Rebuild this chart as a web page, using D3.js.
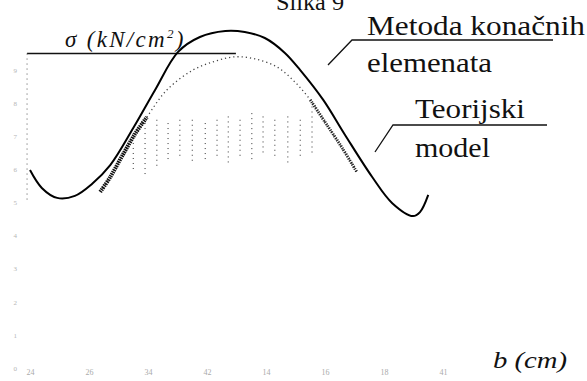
<!DOCTYPE html>
<html>
<head>
<meta charset="utf-8">
<script src="https://cdn.jsdelivr.net/npm/d3@7"></script>
<style>
  body { margin: 0; background: #fff; }
</style>
</head>
<body>
<div id="chart"></div>
<script>
// b (cm) positions and sigma values
var femX = [0, 0.20, 0.46, 0.76, 1.05, 1.36, 1.75, 2.12, 2.51, 2.88, 3.31, 3.64, 3.98, 4.32, 4.58, 4.97, 5.34, 5.80, 6.14, 6.49, 6.61, 6.75];
var femY = [5.98, 5.44, 5.14, 5.20, 5.56, 6.13, 7.25, 8.40, 9.55, 10.0, 10.18, 10.15, 9.97, 9.52, 9.00, 8.10, 7.04, 5.77, 4.98, 4.59, 4.71, 5.23];

var theoX = [1.19, 1.36, 1.56, 1.78, 1.98, 2.32, 2.76, 3.14, 3.47, 3.81, 4.19, 4.49, 4.75, 5.00, 5.29, 5.54];
var theoY = [5.32, 5.77, 6.40, 7.07, 7.58, 8.40, 9.00, 9.27, 9.40, 9.34, 9.09, 8.64, 8.10, 7.43, 6.65, 5.92];

// shaded band under the theoretical curve (vertical hatching)
var hatchX = [1.75, 1.95, 2.15, 2.34, 2.54, 2.75, 2.97, 3.17, 3.36, 3.56, 3.76, 3.95, 4.15, 4.37, 4.58, 4.78];
var hatchTop = [7.1, 7.4, 7.5, 7.4, 7.5, 7.5, 7.4, 7.5, 7.6, 7.5, 7.7, 7.6, 7.5, 7.6, 7.5, 7.9];
var hatchBottom = [5.9, 5.8, 6.0, 6.2, 6.3, 6.2, 6.3, 6.3, 6.2, 6.3, 6.2, 6.4, 6.3, 6.2, 6.4, 6.5];

// tick labels are almost gone in the scan
var xTicks = [0, 1, 2, 3, 4, 5, 6, 7];
var xTickLabels = ["24", "26", "34", "42", "14", "16", "18", "41"];
var yTicks = [0, 1, 2, 3, 4, 5, 6, 7, 8, 9];
var yTickLabels = ["0", "1", "2", "3", "4", "5", "6", "7", "8", "9"];

var width = 587, height = 381;
var serif = "'Liberation Serif'";

var x = d3.scaleLinear().domain([0, 7]).range([30, 443]);
var y = d3.scaleLinear().domain([0, 10]).range([368, 37]);

var svg = d3.select("#chart").append("svg")
  .attr("width", width)
  .attr("height", height);

// faint axes
var xAxis = d3.axisBottom(x).tickValues(xTicks).tickSize(0).tickFormat(function (d, i) { return xTickLabels[i]; });
var gx = svg.append("g").attr("transform", "translate(0,366)").call(xAxis);
gx.select(".domain").remove();
gx.selectAll("text").style("font-size", "8px").style("fill", "#aaa").style("font-family", serif);

var yAxis = d3.axisLeft(y).tickValues(yTicks).tickSize(0).tickFormat(function (d, i) { return yTickLabels[i]; });
var gy = svg.append("g").attr("transform", "translate(20,0)").call(yAxis);
gy.select(".domain").remove();
gy.selectAll("text").style("font-size", "7px").style("fill", "#b5b5b5").style("font-family", serif);

// sigma axis line and dotted left edge
svg.append("line")
  .attr("x1", x(-0.05)).attr("x2", x(3.49))
  .attr("y1", y(9.5)).attr("y2", y(9.5))
  .attr("stroke", "#111").attr("stroke-width", 1.6);

svg.append("line")
  .attr("x1", x(-0.05)).attr("x2", x(-0.05))
  .attr("y1", y(9.5)).attr("y2", y(5.0))
  .attr("stroke", "#555").attr("stroke-width", 1)
  .attr("stroke-dasharray", "1,4");

// hatching
svg.selectAll(".hatch")
  .data(hatchX)
  .enter()
  .append("line")
  .attr("class", "hatch")
  .attr("x1", function (d) { return x(d); })
  .attr("x2", function (d) { return x(d); })
  .attr("y1", function (d, i) { return y(hatchTop[i]); })
  .attr("y2", function (d, i) { return y(hatchBottom[i]); })
  .attr("stroke", "#333")
  .attr("stroke-width", 1)
  .attr("stroke-dasharray", "1,4");

var line = d3.line()
  .x(function (d) { return x(d[0]); })
  .y(function (d) { return y(d[1]); })
  .curve(d3.curveCatmullRom);

var theo = d3.zip(theoX, theoY);

// theoretical model: dotted curve, dark along the steep flanks
svg.append("path")
  .datum(theo)
  .attr("d", line)
  .attr("fill", "none")
  .attr("stroke", "#444")
  .attr("stroke-width", 1.3)
  .attr("stroke-dasharray", "1.2,3");

svg.append("path")
  .datum(theo.filter(function (d) { return d[0] <= 1.98; }))
  .attr("d", line)
  .attr("fill", "none")
  .attr("stroke", "#111")
  .attr("stroke-width", 4)
  .attr("stroke-dasharray", "1.5,0.8");

svg.append("path")
  .datum(theo.filter(function (d) { return d[0] >= 4.75; }))
  .attr("d", line)
  .attr("fill", "none")
  .attr("stroke", "#222")
  .attr("stroke-width", 3)
  .attr("stroke-dasharray", "1.2,1.2");

// finite element method: solid curve
svg.append("path")
  .datum(d3.zip(femX, femY))
  .attr("d", line)
  .attr("fill", "none")
  .attr("stroke", "#000")
  .attr("stroke-width", 2);

// labels
function label(tx, ty, size, str, len, italic) {
  var t = svg.append("text")
    .attr("x", tx).attr("y", ty)
    .style("font-family", serif)
    .style("fill", "#111")
    .style("font-size", size + "px");
  if (italic) t.style("font-style", "italic");
  if (len) t.attr("textLength", len).attr("lengthAdjust", "spacingAndGlyphs");
  t.text(str);
  return t;
}

// caption, cut off at the top of the scan
label(276, 10, 24, "Slika 9", 68);

label(65, 47, 23, "", null, true)
  .style("letter-spacing", "2.3px")
  .html("σ (kN/cm<tspan dy='-9' style='font-size:13px'>2</tspan><tspan dy='9'>)</tspan>");

label(493, 368, 24, "b (cm)", 74, true);
label(367, 35, 27, "Metoda konačnih", 218);
label(367, 72, 27, "elemenata", 125);
label(415, 118, 27, "Teorijski", 110);
label(415, 157, 27, "model", 75);

// leader lines
svg.append("polyline")
  .attr("points", "328,65 352,40 553,40")
  .attr("fill", "none").attr("stroke", "#111").attr("stroke-width", 1.3);

svg.append("polyline")
  .attr("points", "375,152 393,125 547,125")
  .attr("fill", "none").attr("stroke", "#111").attr("stroke-width", 1.3);
</script>
</body>
</html>
